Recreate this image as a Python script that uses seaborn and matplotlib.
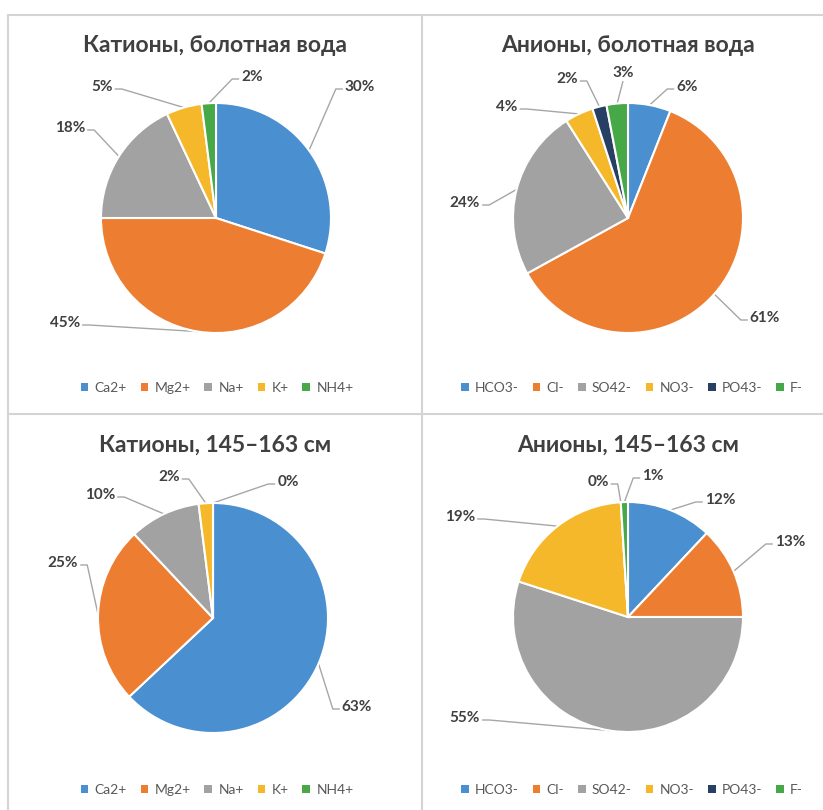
import matplotlib
matplotlib.use("Agg")
import matplotlib.pyplot as plt
from matplotlib.patches import Patch
import seaborn as sns
import numpy as np

# Ion names
cation_names = ["Ca2+", "Mg2+", "Na+", "K+", "NH4+"]
anion_names = ["HCO3-", "Cl-", "SO42-", "NO3-", "PO43-", "F-"]

# Shares, %
cations_bog = [30, 45, 18, 5, 2]
anions_bog = [6, 61, 24, 4, 2, 3]
cations_depth = [63, 25, 10, 2, 0]
anions_depth = [12, 13, 55, 19, 0, 1]

titles = [
    "Катионы, болотная вода",
    "Анионы, болотная вода",
    "Катионы, 145–163 см",
    "Анионы, 145–163 см",
]

cation_colors = ["#4a8fd0", "#ed7d31", "#a2a2a2", "#f5b82a", "#46a846"]
anion_colors = ["#4a8fd0", "#ed7d31", "#a2a2a2", "#f5b82a", "#263f63", "#46a846"]

sns.set_theme(style="white")
plt.rcParams["font.family"] = ["Lato", "DejaVu Sans"]

W, H = 823, 810
fig = plt.figure(figsize=(W / 100, H / 100), dpi=100)
ax = fig.add_axes([0, 0, 1, 1])

R = 115
# panel layout: pie centre, title position, legend centre, label offsets from pie centre (px)
panels = [
    dict(names=cation_names, values=cations_bog, colors=cation_colors, title=titles[0],
         center=(216, 218), title_xy=(215, 45), legend_xy=(217, 388),
         offsets=[(144, -131), (-151, 105), (-146, -90), (-114, -131), (36, -141)]),
    dict(names=anion_names, values=anions_bog, colors=anion_colors, title=titles[1],
         center=(628, 218), title_xy=(628, 45), legend_xy=(632, 388),
         offsets=[(59, -131), (137, 100), (-163, -15), (-121, -111), (-61, -139), (-5, -145)]),
    dict(names=cation_names, values=cations_depth, colors=cation_colors, title=titles[2],
         center=(213, 618), title_xy=(215, 445), legend_xy=(217, 790),
         offsets=[(144, 89), (-150, -55), (-113, -123), (-44, -141), (75, -136)]),
    dict(names=anion_names, values=anions_depth, colors=anion_colors, title=titles[3],
         center=(628, 617), title_xy=(628, 445), legend_xy=(632, 790),
         offsets=[(92, -117), (162, -75), (-163, 101), (-168, -100), (-30, -135), (25, -141)]),
]

label_kw = dict(fontsize=11, fontweight="bold", color="#404040", ha="center", va="center")
line_color = "#a6a6a6"

texts = []
for p in panels:
    cx, cy = p["center"]
    wedges, _ = ax.pie(
        p["values"], colors=p["colors"], radius=R, center=(cx, cy),
        startangle=-90, counterclock=True, normalize=True,
        wedgeprops=dict(edgecolor="white", linewidth=1.5),
    )
    p["wedges"] = wedges
    ax.text(p["title_xy"][0], p["title_xy"][1], p["title"], fontsize=16.5,
            fontweight="bold", color="#404040", ha="center", va="center")
    for w, v, (dx, dy) in zip(wedges, p["values"], p["offsets"]):
        mid = np.deg2rad((w.theta1 + w.theta2) / 2)
        anchor = (cx + R * np.cos(mid), cy + R * np.sin(mid))
        t = ax.text(cx + dx, cy + dy, f"{v}%", **label_kw)
        texts.append((t, anchor))

ax.set_xlim(0, W)
ax.set_ylim(H, 0)
ax.set_aspect("equal")
ax.axis("off")

# leader lines from slice edge to label
fig.canvas.draw()
renderer = fig.canvas.get_renderer()
inv = ax.transData.inverted()
for t, (axp, ayp) in texts:
    bb = t.get_window_extent(renderer)
    (x0, y1), (x1, y0) = inv.transform([(bb.x0, bb.y0), (bb.x1, bb.y1)])
    tx, ty = t.get_position()
    half = (x1 - x0) / 2
    if abs(tx - axp) < half:
        pts = [(axp, ayp), (tx, y1 + 1)]
    elif tx > axp:
        ex = x0 - 2
        pts = [(axp, ayp), (ex - 7, ty + 2), (ex, ty + 2)]
    else:
        ex = x1 + 2
        pts = [(axp, ayp), (ex + 7, ty + 2), (ex, ty + 2)]
    xs, ys = zip(*pts)
    ax.plot(xs, ys, color=line_color, lw=1.0, zorder=0.5, solid_capstyle="butt")

# legends with plain square keys
for p in panels:
    lx, ly = p["legend_xy"]
    handles = [Patch(facecolor=w.get_facecolor(), edgecolor="none") for w in p["wedges"]]
    fig.legend(handles, p["names"], loc="center",
               bbox_to_anchor=(lx / W, 1 - ly / H), ncol=len(p["names"]),
               frameon=False, fontsize=10, labelcolor="#595959",
               handlelength=0.55, handleheight=0.55, handletextpad=0.45,
               columnspacing=1.0)

# panel frame lines
frame_kw = dict(color="#d4d4d4", lw=1.5, zorder=0)
ax.plot([8, W], [14.5, 14.5], **frame_kw)
ax.plot([8, 8], [14.5, H], **frame_kw)
ax.plot([422, 422], [14.5, H], **frame_kw)
ax.plot([8, W], [414, 414], **frame_kw)

ax.set_xlim(0, W)
ax.set_ylim(H, 0)
fig.savefig("out.png", dpi=100, facecolor="white")
